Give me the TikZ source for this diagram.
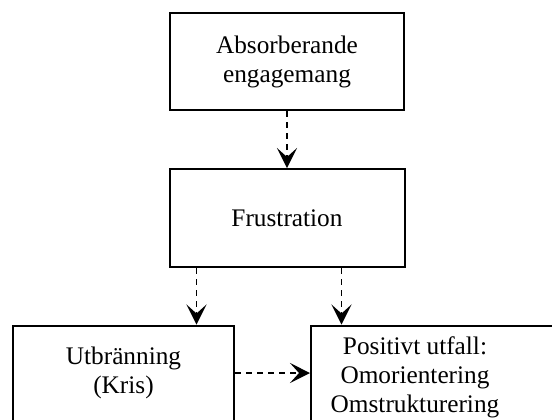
\documentclass[tikz,border=0pt]{standalone}
\usepackage{fontspec}
\setmainfont{Liberation Serif}
\usetikzlibrary{positioning,arrows.meta}

\tikzset{
  phase/.style={draw, line width=1pt, align=center, minimum width=117pt, minimum height=48.5pt},
  flow/.style={-{Stealth[length=10pt,width=10pt,inset=4.5pt]}, line width=0.8pt, dash pattern=on 3pt off 2.5pt},
}

\begin{document}
\begin{tikzpicture}[x=0.5pt, y=-0.5pt, node distance=28.5pt, font=\fontsize{12.65pt}{14.5pt}\selectfont]
            \useasboundingbox (0,0) rectangle (552,419);
            \node[phase] (engagement) at (287,61.5) {Absorberande\\engagemang};
            \node[phase, minimum width=117.5pt, minimum height=49pt] (frustration) [below=of engagement] {Frustration};
            \node[phase, minimum width=110.5pt, minimum height=47.5pt, anchor=north west] (burnout) at (12,324.5) {Utbränning\\(Kris)};
            \node[phase, minimum width=125pt, minimum height=51.5pt, anchor=north west] (outcome) at (310,324.5) {};
            \node[align=center, inner sep=0pt] (outcome_text) at ([xshift=-10.5pt]outcome.center) {Positivt utfall:\\Omorientering\\Omstrukturering};
            \draw[flow] (engagement) -- (frustration);
            \draw[flow] ([xshift=14pt]frustration.south west) -- ([xshift=14pt]frustration.south west |- burnout.north);
            \draw[flow] ([xshift=86.5pt]frustration.south west) -- ([xshift=86.5pt]frustration.south west |- outcome.north);
            \draw[flow] (burnout) -- (burnout -| outcome.west);
        \end{tikzpicture}
\end{document}
